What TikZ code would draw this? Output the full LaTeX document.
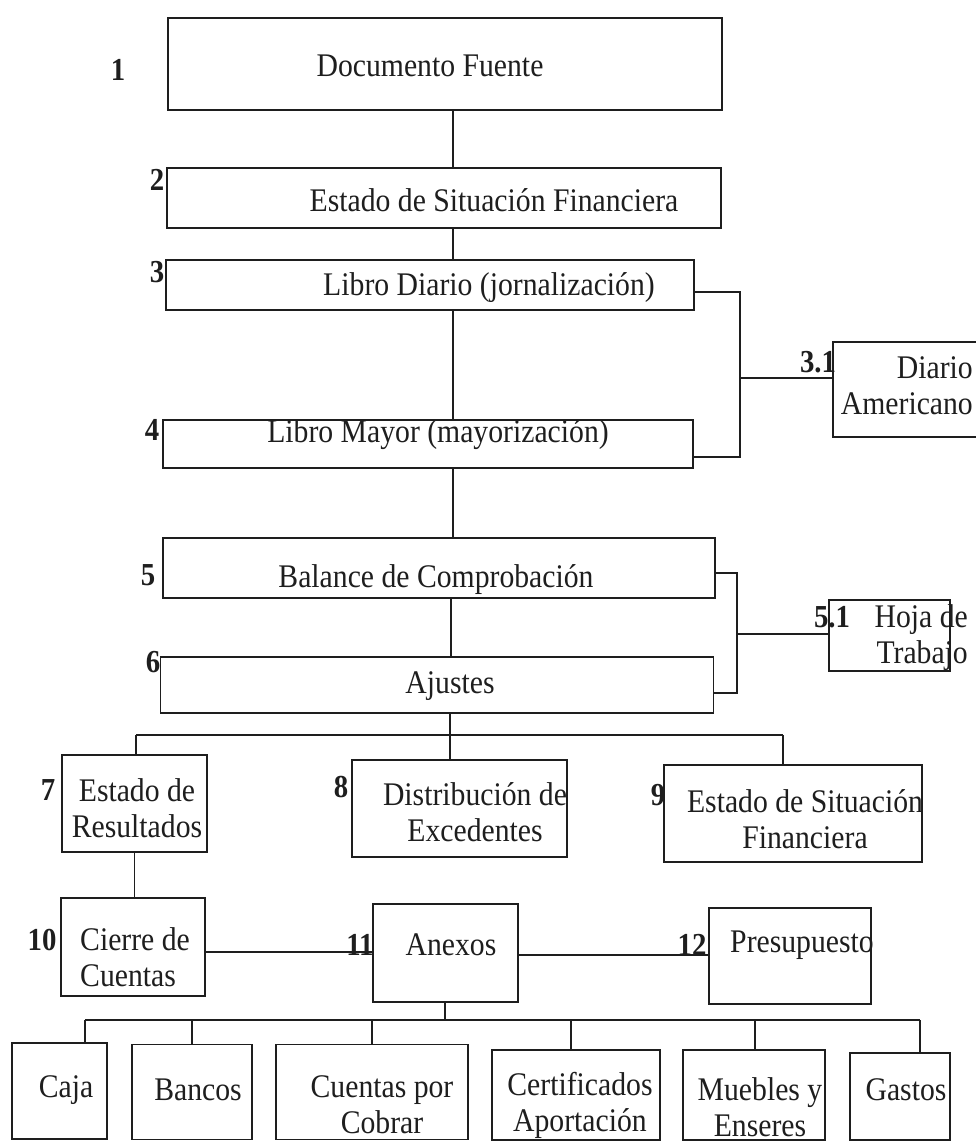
\documentclass[tikz,border=0pt]{standalone}
\usepackage{fontspec}
\setmainfont{Liberation Serif}[FakeStretch=0.9]
\definecolor{ink}{HTML}{1E1E1E}
\begin{document}
\begin{tikzpicture}[x=1pt,y=-1pt,
  box/.style={draw=ink, line width=1.8pt, inner sep=0pt},
  conn/.style={draw=ink, line width=1.4pt},
  txt/.style={inner sep=0pt, font=\fontsize{33}{36}\selectfont, text=ink, align=center},
  num/.style={inner sep=0pt, font=\fontsize{32}{36}\selectfont\bfseries, text=ink}]
\useasboundingbox[fill=white] (0,0) rectangle (976,1142);

% ---------- boxes ----------
\node[box, minimum width=554pt, minimum height=92pt] (b1) at (445,64) {};
\node[box, minimum width=554pt, minimum height=60pt] (b2) at (444,198) {};
\node[box, minimum width=528pt, minimum height=50pt] (b3) at (430,285) {};
\node[box, minimum width=530pt, minimum height=48pt] (b4) at (428,444) {};
\node[box, minimum width=552pt, minimum height=60pt] (b5) at (439,568) {};
\node[box, minimum width=553pt, minimum height=56pt] (b6) at (437,685) {};
\node[box, minimum width=148pt, minimum height=95pt] (b31) at (907,389.5) {};
\node[box, minimum width=121pt, minimum height=71pt] (b51) at (889.5,635.5) {};
\node[box, minimum width=145pt, minimum height=97pt] (b7) at (134.5,803.5) {};
\node[box, minimum width=215pt, minimum height=97pt] (b8) at (459.5,808.5) {};
\node[box, minimum width=258pt, minimum height=97pt] (b9) at (793,813.5) {};
\node[box, minimum width=144pt, minimum height=98pt] (b10) at (133,947) {};
\node[box, minimum width=145pt, minimum height=98pt] (b11) at (445.5,953) {};
\node[box, minimum width=162pt, minimum height=96pt] (b12) at (790,956) {};
\node[box, minimum width=95pt, minimum height=96pt] (c1) at (59.5,1091) {};
\node[box, minimum width=120pt, minimum height=95pt] (c2) at (192,1092) {};
\node[box, minimum width=192pt, minimum height=95pt] (c3) at (372,1092) {};
\node[box, minimum width=168pt, minimum height=90pt] (c4) at (576,1095) {};
\node[box, minimum width=142pt, minimum height=90pt] (c5) at (754,1095) {};
\node[box, minimum width=100pt, minimum height=87pt] (c6) at (900,1096.5) {};

% ---------- texts ----------
\node[txt] (t1) at (430,66) {Documento Fuente};
\node[txt] (t2) at (494,200) {Estado de Situación Financiera};
\node[txt] (t3) at (489,288) {Libro Diario (jornalización)};
\node[txt] (t4) at (438,435) {Libro Mayor (mayorización)};
\node[txt] (t5) at (436,580) {Balance de Comprobación};
\node[txt] (t6) at (450,686) {Ajustes};
\node[txt, align=right, anchor=east] (t31) at (973,386) {Diario\\Americano};
\node[txt, align=right, anchor=east] (t51) at (968,638) {Hoja de\\Trabajo};
\node[txt] (t7) at (137,808) {Estado de\\Resultados};
\node[txt] (t8) at (475,812) {Distribución de\\Excedentes};
\node[txt] (t9) at (805,819) {Estado de Situación\\Financiera};
\node[txt, align=left, anchor=west] (t10) at (80,957) {Cierre de\\Cuentas};
\node[txt] (t11) at (451,945) {Anexos};
\node[txt] (t12) at (802,945) {Presupuesto};
\node[txt] (tc1) at (66,1090) {Caja};
\node[txt] (tc2) at (198,1090) {Bancos};
\node[txt] (tc3) at (382,1105) {Cuentas por\\Cobrar};
\node[txt] (tc4) at (580,1105) {Certificados\\Aportación};
\node[txt] (tc5) at (760,1107) {Muebles y\\Enseres};
\node[txt] (tc6) at (906,1090) {Gastos};

% ---------- numbers ----------
\node[num] (n1) at (118,70) {1};
\node[num] (n2) at (157,180) {2};
\node[num] (n3) at (157,272) {3};
\node[num] (n31) at (818,362) {3.1};
\node[num] (n4) at (152,430) {4};
\node[num] (n5) at (148,575) {5};
\node[num] (n51) at (832,617) {5.1};
\node[num] (n6) at (153,662) {6};
\node[num] (n7) at (48,790) {7};
\node[num] (n8) at (341,787) {8};
\node[num] (n9) at (658,795) {9};
\node[num] (n10) at (42,940) {10};
\node[num] (n11) at (360,945) {11};
\node[num] (n12) at (692,945) {12};

% ---------- connectors ----------
\coordinate (xa) at (453,0);
\coordinate (xb) at (451,0);
\draw[conn] (b1.south -| xa) -- (b2.north -| xa);
\draw[conn] (b2.south -| xa) -- (b3.north -| xa);
\draw[conn] (b3.south -| xa) -- (b4.north -| xa);
\draw[conn] (b4.south -| xa) -- (b5.north -| xa);
\draw[conn] (b5.south -| xb) -- (b6.north -| xb);

% bracket to 3.1
\coordinate (k3a) at (740,292);
\coordinate (k3b) at (740,457);
\coordinate (j3) at (740,378);
\draw[conn] (b3.east |- k3a) -- (k3a) -- (k3b) -- (b4.east |- k3b);
\draw[conn] (j3) -- (b31.west |- j3);

% bracket to 5.1
\coordinate (k5a) at (737,573);
\coordinate (k5b) at (737,693);
\coordinate (j5) at (737,634);
\draw[conn] (b5.east |- k5a) -- (k5a) -- (k5b) -- (b6.east |- k5b);
\draw[conn] (j5) -- (b51.west |- j5);

% bus 1
\coordinate (bus1) at (450,735);
\coordinate (bus1l) at (136,735);
\coordinate (bus1r) at (783,735);
\draw[conn] (b6.south -| bus1) -- (bus1);
\draw[conn] (bus1l) -- (bus1r);
\draw[conn] (bus1l) -- (b7.north -| bus1l);
\draw[conn] (bus1) -- (b8.north -| bus1);
\draw[conn] (bus1r) -- (b9.north -| bus1r);

% row 10-12
\draw[conn] (b7.south) -- (b10.north -| b7.south);
\coordinate (r10) at (0,952);
\coordinate (r11) at (0,955);
\draw[conn] (b10.east |- r10) -- (b11.west |- r10);
\draw[conn] (b11.east |- r11) -- (b12.west |- r11);

% bus 2
\coordinate (bus2) at (445,1020);
\coordinate (bus2l) at (85,1020);
\coordinate (bus2r) at (920,1020);
\draw[conn] (b11.south -| bus2) -- (bus2);
\draw[conn] (bus2l) -- (bus2r);
\draw[conn] (bus2l) -- (c1.north -| bus2l);
\draw[conn] (c2.north |- bus2) -- (c2.north);
\draw[conn] (c3.north |- bus2) -- (c3.north);
\coordinate (d4) at (571,1020);
\coordinate (d5) at (755,1020);
\draw[conn] (d4) -- (c4.north -| d4);
\draw[conn] (d5) -- (c5.north -| d5);
\draw[conn] (bus2r) -- (c6.north -| bus2r);
\end{tikzpicture}
\end{document}
